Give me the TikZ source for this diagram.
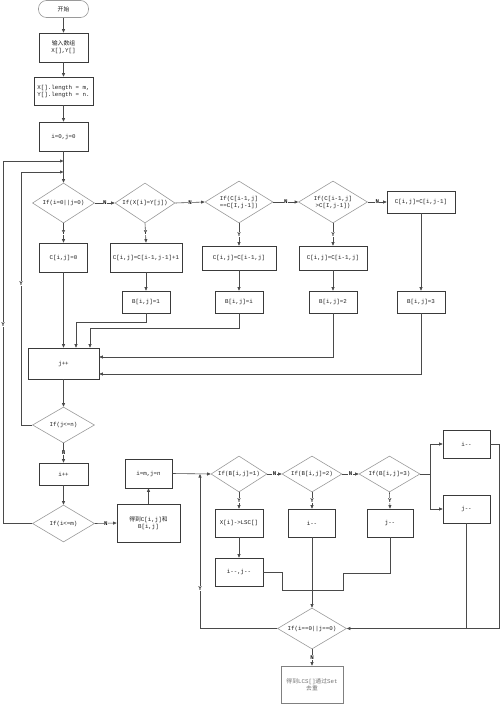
\documentclass[tikz,border=0pt]{standalone}
\usepackage{fontspec}
\setmonofont{Liberation Mono}
\newfontfamily\cjk{Noto Sans CJK SC}
\usepackage{tikz}
\usetikzlibrary{arrows.meta,shapes.geometric}
\definecolor{cl}{HTML}{4A4A4A}
\definecolor{cbx}{HTML}{3A3A3A}
\definecolor{cdm}{HTML}{9A9A9A}
\definecolor{ctx}{HTML}{1E1E1E}
\newcommand{\mf}{\ttfamily\fontsize{5.8}{7}\selectfont}

\begin{document}
\begin{tikzpicture}[x=1pt,y=-1pt, font=\mf, text=ctx,
  box/.style 2 args={draw=cbx, line width=0.6pt, minimum width=#1pt, minimum height=#2pt, inner sep=1pt, align=center},
  dia/.style 2 args={draw=cdm, line width=0.6pt, shape=diamond, aspect=1.6, inner sep=0pt, minimum width=#1pt, minimum height=#2pt, align=center},
  arr/.style={draw=cl, line width=0.6pt, -{Triangle[length=3.5pt,width=3pt]}},
  ln/.style={draw=cl, line width=0.6pt},
  lab/.style={fill=white, inner sep=0.5pt, font=\mf\bfseries}]
  \useasboundingbox (0,0) rectangle (500,704);
  % first part: fill C and B
  \node[draw=cdm, line width=0.6pt, rounded corners=8pt, minimum width=50pt, minimum height=17pt] (st) at (63.5,9) {\cjk 开始};
  \node[box={49}{29}] (inp) at (63.5,47.5) {{\cjk 输入数组}\\X[],Y[]};
  \node[box={59}{28}] (len) at (63.5,91) {X[].length = m,\\Y[].length = n.};
  \node[box={49}{29}] (init) at (63.5,136.5) {i=0,j=0};
  \node[dia={62}{40}] (d0) at (63.5,203) {If(i=0||j=0)};
  \node[dia={60}{40}] (d1) at (145,203) {If(X[i]=Y[j])};
  \node[dia={68}{42}] (d2) at (239,202) {If(C[i-1,j]\\==C[I,j-1])};
  \node[dia={69}{42}] (d3) at (333,202) {If(C[i-1,j]\\>C[I,j-1])};
  \node[box={68}{22}] (c4) at (421,202) {C[i,j]=C[i,j-1]};
  \node[box={48}{29}] (c0) at (63.5,257.5) {C[i,j]=0};
  \node[box={72}{29}] (c1) at (146,257.5) {C[i,j]=C[i-1,j-1]+1};
  \node[box={74}{24}] (c2) at (239,258) {C[i,j]=C[i-1,j]};
  \node[box={68}{24}] (c3) at (333,258) {C[i,j]=C[i-1,j]};
  \foreach \n/\x/\t in {b1/146/1, b2/239/i, b3/333/2, b4/421/3}
    \node[box={48}{22}] (\n) at (\x,302) {B[i,j]=\t};
  \node[box={71}{31}] (jpp) at (63.5,363.5) {j++};
  \node[dia={62}{36}] (dj) at (63.5,425) {If(j<=n)};
  \node[box={49}{22}] (ipp) at (63.5,474) {i++};
  \node[dia={62}{37}] (di) at (63.5,523.5) {If(i<=m)};
  \node[box={63}{38}] (got) at (148.5,523) {{\cjk 得到}C[i,j]{\cjk 和}\\B[i,j]};
  \node[box={47}{29}] (set) at (148.5,473.5) {i=m,j=n};
  % second part: read back LCS
  \node[dia={56}{36}] (e1) at (239,474) {If(B[i,j]=1)};
  \node[dia={60}{36}] (e2) at (312,474) {If(B[i,j]=2)};
  \node[dia={61}{36}] (e3) at (389.5,474) {If(B[i,j]=3)};
  \node[box={48}{28}] (f1) at (239,523) {X[i]->LSC[]};
  \node[box={47}{28}] (f2) at (312,523) {i--};
  \node[box={46}{28}] (f3) at (390,523) {j--};
  \node[box={48}{28}] (f4) at (239,572) {i--,j--};
  \node[box={47}{28}] (g1) at (466.5,444) {i--};
  \node[box={47}{28}] (g2) at (466.5,509) {j--};
  \node[dia={69}{41}] (dz) at (312,628.5) {If(i==0||j==0)};
  \node[box={62}{37}, draw=black!50, text=black!55] (fin) at (312,684.5) {{\cjk 得到}LCS[]{\cjk 通过}Set\\{\cjk 去重}};
  \coordinate (lo) at (3,161);
  \coordinate (li) at (21,172);
  \coordinate (k1) at (76,322);
  \coordinate (k2) at (90,328);
  \coordinate (sp) at (430,474);
  \coordinate (rc) at (499,444);
  \coordinate (m1) at (343,590);
  \coordinate (m2) at (282,590);
  \coordinate (lb) at (200,474);
  % straight arrows
  \foreach \a/\b in {st/inp, inp/len, len/init, init/d0, c0/jpp, c1/b1, c2/b2, c3/b3, c4/b4, jpp/dj, ipp/di, f1/f4, f2/dz}
    \draw[arr] (\a.south) -- (\b.north);
  \foreach \a/\b in {d0/d1, d1/d2, d2/d3, d3/c4, e1/e2, e2/e3}
    \draw[arr] (\a.east) -- node[lab]{N} (\b.west);
  \foreach \a/\b in {d0/c0, d1/c1, d2/c2, d3/c3, e1/f1, e2/f2, e3/f3}
    \draw[arr] (\a.south) -- node[lab]{Y} (\b.north);
  \draw[arr] (dj.south) -- node[lab]{N} (ipp.north);
  \draw[arr] (di.east) -- node[lab]{N} (got.west);
  \draw[arr] (dz.south) -- node[lab]{N} (fin.north);
  \draw[arr] (got.north) -- (set.south);
  \draw[arr] (set.east) -- (e1.west);
  % loops back
  \draw[arr] (di.west) -- (di.west -| lo) -- node[lab, pos=0.55]{Y} (lo) -- (init.south |- lo);
  \draw[arr] (dj.west) -- (dj.west -| li) -- node[lab, pos=0.56]{Y} (li) -- (init.south |- li);
  \draw[arr] (b1.south) |- (k1) -- (k1 |- jpp.north);
  \draw[arr] (b2.south) |- (k2) -- (k2 |- jpp.north);
  \draw[arr] (b3.south) |- ([yshift=6.5pt]jpp.east);
  \draw[arr] (b4.south) |- ([yshift=-10.5pt]jpp.east);
  \draw[ln] (e3.east) -- (sp);
  \draw[arr] (sp) |- (g1.west);
  \draw[arr] (sp) |- (g2.west);
  \draw[arr] (g1.east) -- (g1.east -| rc) |- (dz.east);
  \draw[ln] (g2.south) -- (g2.south |- dz.east);
  \draw[ln] (f3.south) -- ++(0,36) -| (m1) -- (m1 -| dz.north);
  \draw[ln] (f4.east) -| (m2) -- (m2 -| dz.north);
  \draw[arr] (dz.west) -- (dz.west -| lb) -- node[lab, pos=0.26]{Y} (lb);
\end{tikzpicture}
\end{document}
